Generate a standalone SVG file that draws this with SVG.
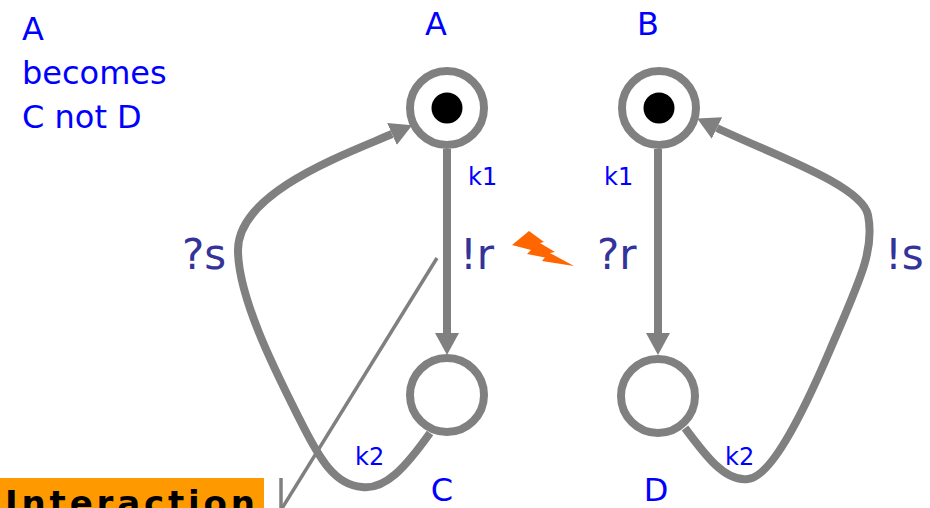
<svg xmlns="http://www.w3.org/2000/svg" width="930" height="508" viewBox="0 0 930 508">
<style>
.ring{fill:#fff;stroke:#808080;stroke-width:8}
.dot{fill:#000}
.edge{fill:none;stroke:#808080;stroke-width:8}
.thin{fill:none;stroke:#808080;stroke-width:3.5}
.lbl{font-family:"DejaVu Sans",sans-serif;fill:#0000ff}
.act{font-family:"DejaVu Sans",sans-serif;fill:#333399;font-size:42px}
.k{font-size:24px}
.big{font-size:32px}
</style>
<defs>
<marker id="ah" viewBox="0 0 22 24" refX="0" refY="12" markerWidth="22" markerHeight="24" markerUnits="userSpaceOnUse" orient="auto">
<path d="M0,0 L22,12 L0,24 z" fill="#808080"/>
</marker>
</defs>
<rect width="930" height="508" fill="#fff"/>
<g id="note">
<text class="lbl big" x="22" y="40">A</text>
<text class="lbl big" x="22" y="84">becomes</text>
<text class="lbl big" x="22" y="128">C not D</text>
</g>
<g id="connectors">
<path class="edge" d="M447,149 L447,333" marker-end="url(#ah)"/>
<path class="edge" d="M658,149 L658,333" marker-end="url(#ah)"/>
<path class="edge" d="M430,433 C405,468 385,490 362,487 C335,485 320,460 300,420 C280,380 238,300 238,250 C238,192 346,154 392,134" marker-end="url(#ah)"/>
<path class="edge" d="M685,428 C705,455 725,482 748,479 C770,477 800,420 830,350 C860,280 875,250 868,215 C862,185 771,154 717,128" marker-end="url(#ah)"/>
<path class="thin" d="M437,258 L281,510"/>
<path class="thin" d="M281,478 L281,510"/>
</g>
<g id="nodeA">
<circle class="ring" cx="447" cy="108" r="37"/>
<circle class="dot" cx="447" cy="108" r="15.5"/>
<text class="lbl big" x="436" y="35" text-anchor="middle">A</text>
</g>
<g id="nodeB">
<circle class="ring" cx="659" cy="108" r="37"/>
<circle class="dot" cx="659" cy="108" r="15.5"/>
<text class="lbl big" x="648" y="35" text-anchor="middle">B</text>
</g>
<g id="nodeC">
<circle class="ring" cx="447" cy="395" r="37"/>
<text class="lbl big" x="442" y="501" text-anchor="middle">C</text>
</g>
<g id="nodeD">
<circle class="ring" cx="658" cy="396" r="37"/>
<text class="lbl big" x="656" y="501" text-anchor="middle">D</text>
</g>
<g id="labels">
<text class="lbl k" x="468" y="185">k1</text>
<text class="lbl k" x="604" y="185">k1</text>
<text class="lbl k" x="355" y="465">k2</text>
<text class="lbl k" x="725" y="465">k2</text>
<text class="act" x="460" y="269">!r</text>
<text class="act" x="597" y="269">?r</text>
<text class="act" x="182" y="269">?s</text>
<text class="act" x="885" y="269">!s</text>
</g>
<g id="bolt">
<polygon points="512,245 529,231 544,242 540,243 555,252 550,253 574,266 542,261 545,257.5 527,254 531,250" fill="#ff6600"/>
</g>
<g id="interaction">
<rect x="0" y="478" width="264" height="40" fill="#ff9900"/>
<text x="5" y="515" font-family="DejaVu Sans, sans-serif" font-weight="bold" font-size="34" fill="#000" textLength="250" lengthAdjust="spacing">Interaction</text>
</g>
</svg>
